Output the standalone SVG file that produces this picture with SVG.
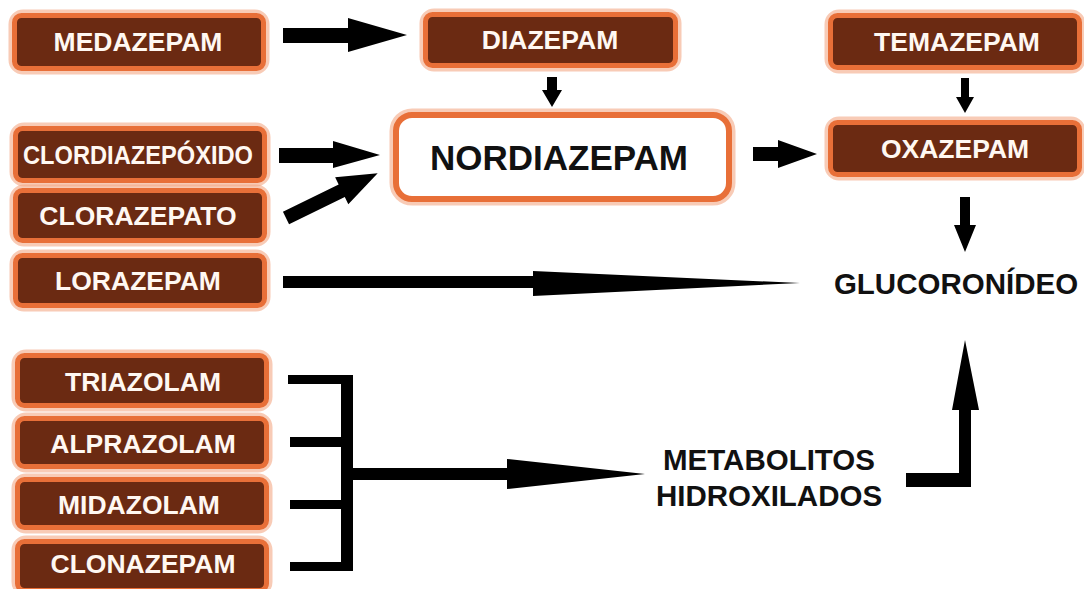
<svg xmlns="http://www.w3.org/2000/svg" width="1084" height="589" viewBox="0 0 1084 589">
<style>
.glow{fill:none;stroke:#F4A985;stroke-width:9;opacity:.6}
.bx{fill:#6B2A12;stroke:#E86F38;stroke-width:5}
.wbx{fill:#FFFFFF;stroke:#E86F38;stroke-width:6}
.lbl{font-family:"Liberation Sans",Arial,sans-serif;font-weight:bold;font-size:26.5px;fill:#FFF8F2;text-anchor:middle}
.blk{font-family:"Liberation Sans",Arial,sans-serif;font-weight:bold;fill:#111111;text-anchor:middle}
.ar{fill:#000000}
</style>
<rect width="1084" height="589" fill="#FFFFFF"/>

<g id="medazepam">
<rect class="glow" x="13" y="14" width="252" height="56" rx="10"/>
<rect class="bx" x="14.5" y="15.5" width="249" height="53" rx="7"/>
<text class="lbl" x="138" y="51">MEDAZEPAM</text>
</g>
<g id="diazepam">
<rect class="glow" x="424" y="13" width="253" height="54" rx="10"/>
<rect class="bx" x="425.5" y="14.5" width="250" height="51" rx="7"/>
<text class="lbl" x="550" y="48.5">DIAZEPAM</text>
</g>
<g id="temazepam">
<rect class="glow" x="829" y="14" width="252" height="55" rx="10"/>
<rect class="bx" x="830.5" y="15.5" width="249" height="52" rx="7"/>
<text class="lbl" x="957" y="51">TEMAZEPAM</text>
</g>
<g id="nordiazepam">
<rect class="glow" x="394" y="113" width="337" height="88" rx="18"/>
<rect class="wbx" x="396" y="115" width="333" height="84" rx="16"/>
<text class="blk" x="559" y="170" font-size="35">NORDIAZEPAM</text>
</g>
<g id="oxazepam">
<rect class="glow" x="829" y="121" width="252" height="55" rx="10"/>
<rect class="bx" x="830.5" y="122.5" width="249" height="52" rx="7"/>
<text class="lbl" x="955" y="158">OXAZEPAM</text>
</g>
<g id="clordiazepoxido">
<rect class="glow" x="14" y="127" width="252" height="55" rx="10"/>
<rect class="bx" x="15.5" y="128.5" width="249" height="52" rx="7"/>
<text class="lbl" x="138" y="164" font-size="24px" textLength="230" lengthAdjust="spacingAndGlyphs">CLORDIAZEPÓXIDO</text>
</g>
<g id="clorazepato">
<rect class="glow" x="14" y="189" width="252" height="53" rx="10"/>
<rect class="bx" x="15.5" y="190.5" width="249" height="50" rx="7"/>
<text class="lbl" x="138" y="225" font-size="25.3px">CLORAZEPATO</text>
</g>
<g id="lorazepam">
<rect class="glow" x="14" y="254" width="252" height="53" rx="10"/>
<rect class="bx" x="15.5" y="255.5" width="249" height="50" rx="7"/>
<text class="lbl" x="138" y="290">LORAZEPAM</text>
</g>
<g id="triazolam">
<rect class="glow" x="16" y="354" width="252" height="53" rx="10"/>
<rect class="bx" x="17.5" y="355.5" width="249" height="50" rx="7"/>
<text class="lbl" x="143" y="391">TRIAZOLAM</text>
</g>
<g id="alprazolam">
<rect class="glow" x="16" y="417" width="252" height="51" rx="10"/>
<rect class="bx" x="17.5" y="418.5" width="249" height="48" rx="7"/>
<text class="lbl" x="143" y="452.5">ALPRAZOLAM</text>
</g>
<g id="midazolam">
<rect class="glow" x="16" y="478" width="252" height="51" rx="10"/>
<rect class="bx" x="17.5" y="479.5" width="249" height="48" rx="7"/>
<text class="lbl" x="139" y="514">MIDAZOLAM</text>
</g>
<g id="clonazepam">
<rect class="glow" x="16" y="540" width="252" height="52" rx="10"/>
<rect class="bx" x="17.5" y="541.5" width="249" height="49" rx="7"/>
<text class="lbl" x="143" y="573">CLONAZEPAM</text>
</g>
<g id="glucoronideo">
<text class="blk" x="956" y="294" font-size="29.5">GLUCORONÍDEO</text>
</g>
<g id="metabolitos">
<text class="blk" x="769" y="470" font-size="29.5">METABOLITOS</text>
<text class="blk" x="769" y="505.5" font-size="29.5">HIDROXILADOS</text>
</g>

<g id="connectors">
<polygon class="ar" points="283,28 348,28 348,18 407,35 348,52 348,43 283,43"/>
<polygon class="ar" points="547,77 557,77 557,90 562,90 552,107 542,90 547,90"/>
<polygon class="ar" points="279,148 333,148 333,141 380,155 333,168 333,163 279,163"/>
<polygon class="ar" points="0,-7 62,-7 62,-15 102,0 62,15 62,7 0,7" transform="translate(286,218) rotate(-26)"/>
<polygon class="ar" points="753,147 778,147 778,140 817,154 778,168 778,161 753,161"/>
<polygon class="ar" points="961,78 969,78 969,97 974,97 965,113 956,97 961,97"/>
<polygon class="ar" points="960,197 970,197 970,225 976,225 965,252 954,225 960,225"/>
<polygon class="ar" points="283,276 533,276 533,271 800,283 533,296 533,288 283,288"/>
<path class="ar" d="M288,375 H353 V571 H290 V562 H341 V509 H290 V500 H341 V447 H290 V437 H341 V384 H288 Z"/>
<polygon class="ar" points="353,468 507,468 507,459 645,474 507,489 507,480 353,480"/>
<polygon class="ar" points="906,473 959,473 959,410 952,410 965,340 979,410 971,410 971,487 906,487"/>
</g>
</svg>
